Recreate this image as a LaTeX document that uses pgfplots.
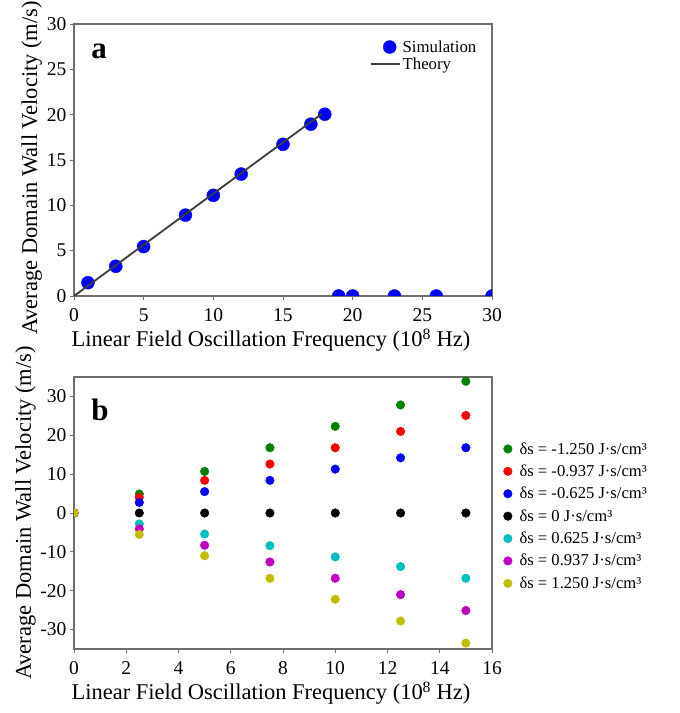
\documentclass[border=0pt]{standalone}
\usepackage{fontspec}
\setmainfont{Liberation Serif}
\usepackage{pgfplots}
\pgfplotsset{compat=1.18}

\definecolor{simBlue}{RGB}{0,0,255}
\definecolor{frameGray}{RGB}{110,110,110}
\definecolor{theoryGray}{RGB}{60,60,60}
\definecolor{dsGreen}{RGB}{0,128,0}
\definecolor{dsRed}{RGB}{255,0,0}
\definecolor{dsBlue}{RGB}{0,0,255}
\definecolor{dsCyan}{RGB}{0,191,191}
\definecolor{dsMagenta}{RGB}{191,0,191}
\definecolor{dsYellow}{RGB}{191,191,0}

\pgfplotsset{
  panel/.style={
    scale only axis, width=418pt, height=272pt,
    axis line style={frameGray, line width=1.2pt},
    tick align=outside, xtick pos=left, ytick pos=left,
    major tick length=4pt,
    every tick/.style={frameGray, line width=0.8pt},
    tick label style={font=\fontsize{19.5}{20}\selectfont},
    xticklabel style={yshift=-5pt},
    label style={font=\fontsize{22.5}{24}\selectfont},
    xlabel style={xshift=-12pt},
    /pgf/number format/assume math mode=true,
    clip marker paths=true,
    legend cell align=left,
    xlabel={Linear Field Oscillation Frequency (10\textsuperscript{8} Hz)},
    ylabel={Average Domain Wall Velocity (m/s)},
  },
  dotlegend/.style={legend image code/.code={\draw[##1] plot coordinates {(#1,0pt)};}},
  dotlegendb/.style={legend image code/.code={\draw[##1] plot coordinates {(4pt,0pt)}; \path (#1,0pt);}},
  linelegend/.style={legend image code/.code={\draw[##1] (0pt,0pt) -- (#1,0pt);}},
}

\begin{document}
\begin{tikzpicture}
\path[use as bounding box] (-74pt,-64pt) rectangle (606pt,649pt);

% panel a
\begin{axis}[panel, at={(0pt,353pt)},
  xmin=0, xmax=30, ymin=0, ymax=30,
  xtick={0,5,...,30}, ytick={0,5,...,30},
  ylabel style={yshift=-2pt, xshift=-8pt},
  legend style={draw=none, fill=none, at={(0.975,0.955)}, anchor=north east,
    font=\fontsize{16.8}{18}\selectfont, row sep=0pt},
]
\addplot[only marks, mark=*, mark size=6.5pt, color=simBlue, dotlegend=19pt] coordinates {
  (1,1.47) (3,3.28) (5,5.45) (8,8.92) (10,11.1) (12,13.45) (15,16.73)
  (17,18.95) (18,20.05) (19,0) (20,0) (23,0) (26,0) (30,0)
};
\addlegendentry{Simulation}
\addplot[theoryGray, line width=1.8pt, no marks, linelegend=29pt] coordinates {(0,0) (17.8,20.1)};
\addlegendentry{Theory}
\node[font=\fontsize{31}{31}\selectfont\bfseries] at (rel axis cs:0.06,0.9) {a};
\end{axis}

% panel b
\begin{axis}[panel, at={(0pt,0pt)},
  xmin=0, xmax=16, ymin=-35, ymax=35,
  xtick={0,2,...,16}, ytick={-30,-20,...,30},
  ylabel style={yshift=-2pt},
  legend style={draw=none, fill=none, at={(1.02,0.775)}, anchor=north west,
    font=\fontsize{16.6}{18}\selectfont, row sep=5.3pt},
  every axis plot/.append style={only marks, mark=*, mark size=4.3pt},
  dotlegendb=13.5pt,
]
\addplot[color=dsGreen] coordinates {(0,0) (2.5,4.9) (5,10.7) (7.5,16.8) (10,22.3) (12.5,27.8) (15,33.9)};
\addlegendentry{δs = -1.250 J·s/cm³}
\addplot[color=dsRed] coordinates {(0,0) (2.5,4.0) (5,8.4) (7.5,12.6) (10,16.8) (12.5,21.0) (15,25.1)};
\addlegendentry{δs = -0.937 J·s/cm³}
\addplot[color=dsBlue] coordinates {(0,0) (2.5,2.7) (5,5.5) (7.5,8.4) (10,11.3) (12.5,14.2) (15,16.8)};
\addlegendentry{δs = -0.625 J·s/cm³}
\addplot[color=black] coordinates {(0,0) (2.5,0) (5,0) (7.5,0) (10,0) (12.5,0) (15,0)};
\addlegendentry{δs = 0 J·s/cm³}
\addplot[color=dsCyan] coordinates {(0,0) (2.5,-2.8) (5,-5.4) (7.5,-8.4) (10,-11.3) (12.5,-13.8) (15,-16.8)};
\addlegendentry{δs = 0.625 J·s/cm³}
\addplot[color=dsMagenta] coordinates {(0,0) (2.5,-4.1) (5,-8.3) (7.5,-12.6) (10,-16.8) (12.5,-21.0) (15,-25.1)};
\addlegendentry{δs = 0.937 J·s/cm³}
\addplot[color=dsYellow] coordinates {(0,0) (2.5,-5.5) (5,-11.0) (7.5,-16.8) (10,-22.2) (12.5,-27.8) (15,-33.5)};
\addlegendentry{δs = 1.250 J·s/cm³}
\node[font=\fontsize{31}{31}\selectfont\bfseries] at (rel axis cs:0.062,0.88) {b};
\end{axis}
\end{tikzpicture}
\end{document}
